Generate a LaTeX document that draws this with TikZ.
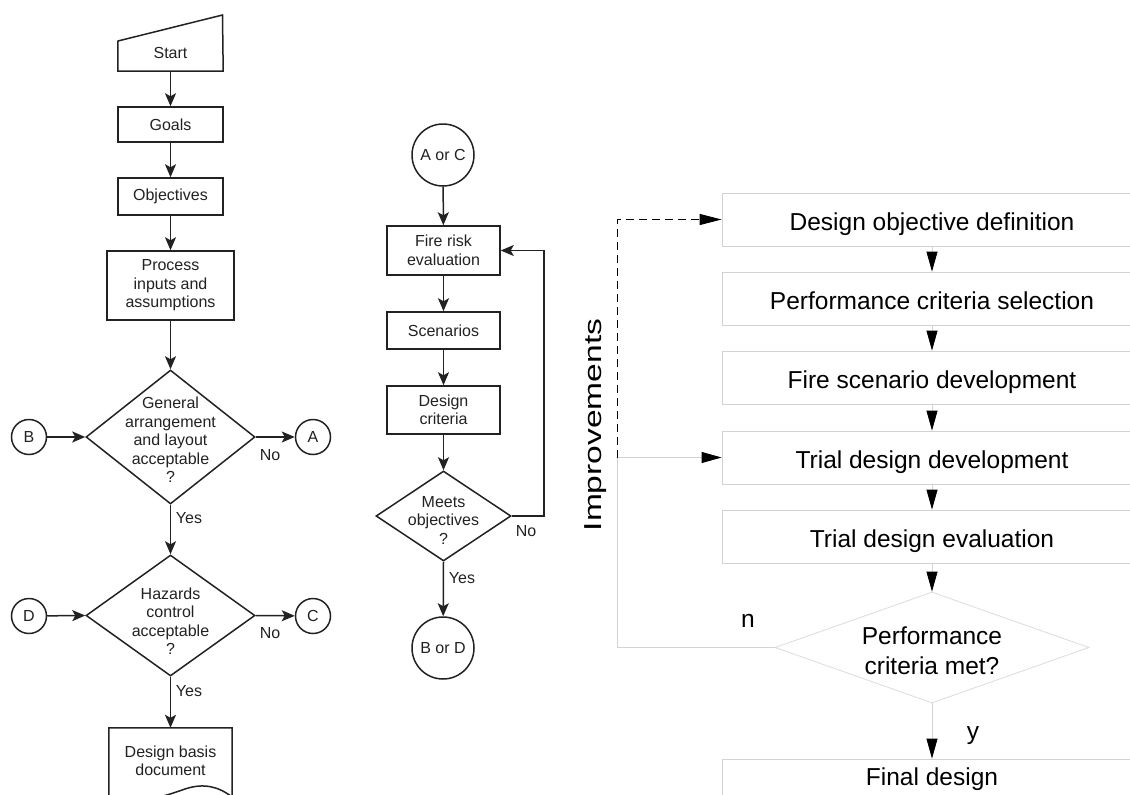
\documentclass[tikz,border=0pt]{standalone}
\usepackage{fontspec}
\setmainfont{Liberation Sans}
\usetikzlibrary{arrows.meta,shapes.geometric}
\definecolor{ink}{HTML}{222222}
\definecolor{lgray}{HTML}{D2D2D2}
\definecolor{lgray2}{HTML}{DCDCDC}
\begin{document}
\begin{tikzpicture}[x=1pt,y=-1pt,
  font=\fontsize{16}{18.5}\selectfont,
  lbox/.style={draw=ink, line width=1.5pt, minimum width=105pt, inner sep=0pt, align=center, text=ink},
  ldia/.style={diamond, draw=ink, line width=1.5pt, inner sep=0pt},
  lcirc/.style={circle, draw=ink, line width=1.5pt, inner sep=0pt, text=ink},
  ltext/.style={align=center, text=ink, inner sep=0pt},
  larr/.style={draw=ink, line width=1.5pt, -{Stealth[length=13pt,width=11pt,inset=3pt]}},
  lline/.style={draw=ink, line width=1.5pt},
  rfont/.style={font=\fontsize{24.5}{30}\selectfont},
  rbox/.style={draw=lgray, line width=0.8pt, minimum width=420pt, minimum height=53pt, inner sep=0pt, text height=22pt, text depth=0pt, rfont},
  rarr/.style={draw=lgray, line width=0.8pt, -{Triangle[length=20pt,width=11pt,color=black]}},
  rline/.style={draw=lgray, line width=0.8pt},
  rdash/.style={draw=black, line width=1pt, dash pattern=on 8pt off 5pt, -{Triangle[length=22pt,width=11pt,color=black]}}
]
\clip (0,0) rectangle (1130,795);
\fill[white] (0,0) rectangle (1130,795);

% ---------------- left flowchart ----------------
\node[ltext, minimum width=105pt, minimum height=36pt] (start) at (170.5,53) {Start};
\draw[lline] (start.south west) -- (start.south east) -- (222.5,15) -- (118,41) -- cycle;
\node[lbox, minimum height=35pt] (goals) at (170.5,124.5) {Goals};
\node[lbox, minimum height=37pt] (obj) at (170.5,196.5) {Objectives};
\node[lbox, minimum width=127pt, minimum height=69pt] (proc) at (170.5,285.5) {Process\\inputs and\\assumptions};
\node[ldia, minimum width=169pt, minimum height=134pt] (d1) at (170.5,437) {};
\node[ltext] (d1t) at (170.5,440) {General\\arrangement\\and layout\\acceptable\\?};
\node[lcirc, minimum size=35pt] (cb) at (29,437) {B};
\node[lcirc, minimum size=35pt] (ca) at (313,437) {A};
\node[ldia, minimum width=169pt, minimum height=121pt] (d2) at (170.5,615.5) {};
\node[ltext] (d2t) at (170.5,621) {Hazards\\control\\acceptable\\?};
\node[lcirc, minimum size=35pt] (cd) at (29,616) {D};
\node[lcirc, minimum size=35pt] (cc) at (313,616) {C};
\node[ltext, minimum width=123pt, minimum height=66pt] (doc) at (170.5,761) {Design basis\\document};
\draw[lline] (109,805) -- (doc.north west) -- (doc.north east) -- (232,797)
  .. controls (218,786) and (203,783) .. (185,789)
  .. controls (160,798) and (130,806) .. (109,800);

\draw[larr] (start) -- (goals);
\draw[larr] (goals) -- (obj);
\draw[larr] (obj) -- (proc);
\draw[larr] (proc) -- (d1);
\draw[larr] (cb) -- (d1.west);
\draw[larr] (d1.east) -- (ca);
\draw[larr] (d1.south) -- (d2.north);
\draw[larr] (cd) -- (d2.west);
\draw[larr] (d2.east) -- (cc);
\draw[larr] (d2.south) -- (doc.north);
\node[ltext] (no1) at (270,455) {No};
\node[ltext] (yes1) at (189,518) {Yes};
\node[ltext] (no2) at (270,633) {No};
\node[ltext] (yes2) at (189,691) {Yes};

% ---------------- middle flowchart ----------------
\node[lcirc, minimum size=62pt] (aorc) at (443,155) {A or C};
\node[lbox, minimum width=113pt, minimum height=49pt] (fire) at (443.5,250.5) {Fire risk\\evaluation};
\node[lbox, minimum width=113pt, minimum height=37pt] (scen) at (443.5,330.5) {Scenarios};
\node[lbox, minimum width=113pt, minimum height=48pt] (crit) at (443.5,410) {Design\\criteria};
\node[ldia, minimum width=135pt, minimum height=90pt] (d3) at (443.5,516) {};
\node[ltext] (d3t) at (443.5,520) {Meets\\objectives\\?};
\node[lcirc, minimum size=62pt] (bord) at (443,648) {B or D};
\coordinate (lp1) at (544,516);
\coordinate (lp2) at (544,250.5);
\draw[larr] (aorc) -- (fire);
\draw[larr] (fire) -- (scen);
\draw[larr] (scen) -- (crit);
\draw[larr] (crit) -- (d3);
\draw[larr] (d3.south) -- (bord);
\draw[larr] (d3.east) -- (lp1) -- (lp2) -- (fire.east);
\node[ltext] (no3) at (526,531) {No};
\node[ltext] (yes3) at (462,578) {Yes};

% ---------------- right flowchart ----------------
\node[rbox] (b1) at (932,219.5) {Design objective definition};
\node[rbox] (b2) at (932,298.5) {Performance criteria selection};
\node[rbox] (b3) at (932,377.5) {Fire scenario development};
\node[rbox] (b4) at (932,457.5) {Trial design development};
\node[rbox] (b5) at (932,536.5) {Trial design evaluation};
\node[diamond, draw=lgray2, line width=0.8pt, minimum width=314pt, minimum height=111pt, inner sep=0pt] (pd) at (932,647.5) {};
\node[rfont, align=center, inner sep=0pt] (pdt) at (932,651) {Performance\\criteria met?};
\node[rbox, text height=5pt, text depth=5pt] (fin) at (932,785.5) {Final design};

\draw[rarr] (b1) -- (b2);
\draw[rarr] (b2) -- (b3);
\draw[rarr] (b3) -- (b4);
\draw[rarr] (b4) -- (b5);
\draw[rarr] (b5) -- (pd.north);
\draw[rarr] (pd.south) -- (fin);

\coordinate (fb) at (617,457.5);
\draw[rline] (pd.west) -| (fb);
\draw[rarr] (fb) -- (b4.west);
\draw[rdash] (fb) |- (b1.west);

\node[rfont, rotate=90, inner sep=0pt] (impr) at (596,425) {\scalebox{1.37}[1]{Improvements}};
\node[rfont, inner sep=0pt] (nlab) at (748,621) {n};
\node[rfont, inner sep=0pt] (ylab) at (973,736) {y};
\end{tikzpicture}
\end{document}
